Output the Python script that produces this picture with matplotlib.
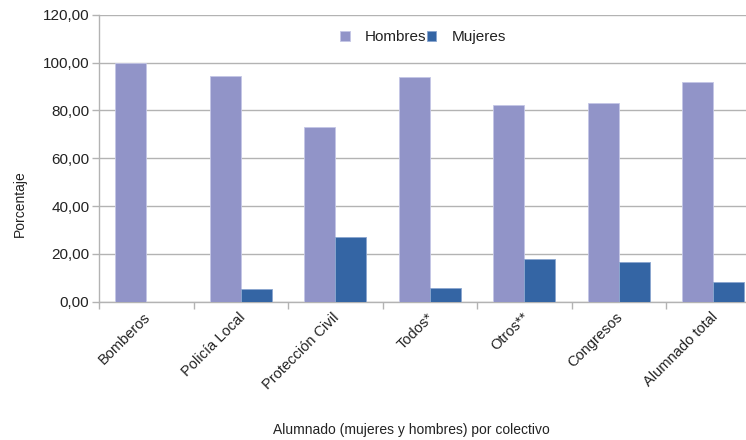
import matplotlib.pyplot as plt
import matplotlib.transforms as mtransforms
import numpy as np

plt.rcParams['font.family'] = ['Liberation Sans', 'DejaVu Sans']

# Datos
colectivos = ['Bomberos', 'Policía Local', 'Protección Civil', 'Todos*', 'Otros**', 'Congresos', 'Alumnado total']
hombres = [100.0, 94.5, 72.9, 94.1, 82.1, 83.2, 91.9]
mujeres = [0.0, 5.5, 27.1, 5.9, 17.9, 16.8, 8.1]
yticks = [0, 20, 40, 60, 80, 100, 120]

color_h = '#9194c8'
color_m = '#3465a4'
gris = '#b3b3b3'

fig = plt.figure(figsize=(7.46, 4.40), dpi=100)
# el eje se sale un poco por la derecha, como en el original
ax = fig.add_axes([99 / 746, (440 - 301.7) / 440, 661.5 / 746, 287 / 440])

x = np.arange(len(colectivos))
w = 0.33
ax.bar(x - w / 2, hombres, w, color=color_h, edgecolor='#c4c6e6', linewidth=0.6, label='Hombres', zorder=3)
ax.bar(x + w / 2, mujeres, w, color=color_m, edgecolor='#8aa6cf', linewidth=0.6, label='Mujeres', zorder=3)

ax.set_xlim(-0.5, len(colectivos) - 0.5)
ax.set_ylim(0, 120)
ax.set_yticks(yticks)
ax.set_yticklabels([f'{v:.2f}'.replace('.', ',') for v in yticks], fontsize=11, color='#222222')
ax.yaxis.grid(True, color=gris, linewidth=1, zorder=0)

# ticks del eje x en los limites de cada grupo, etiquetas en el centro
ax.set_xticks(np.arange(len(colectivos) + 1) - 0.5)
ax.set_xticklabels([])
ax.set_xticks(x, minor=True)
ax.set_xticklabels(colectivos, minor=True, rotation=45, ha='right', fontsize=10.5, color='#222222')
ax.tick_params(axis='x', which='minor', length=0, pad=6)
ax.tick_params(axis='x', which='major', length=5, color=gris, width=1)
ax.tick_params(axis='y', length=5, color=gris, width=1, pad=2)

# mover un poco las etiquetas hacia la derecha
desplaza = mtransforms.ScaledTranslation(7 / 100, 0, fig.dpi_scale_trans)
for lab in ax.get_xticklabels(minor=True):
    lab.set_transform(lab.get_transform() + desplaza)

for s in ['top', 'right']:
    ax.spines[s].set_visible(False)
for s in ['left', 'bottom']:
    ax.spines[s].set_color(gris)
    ax.spines[s].set_linewidth(1)

fig.text(20 / 746, 1 - 204 / 440, 'Porcentaje', rotation=90, ha='center', va='center', fontsize=10, color='#222222')
fig.text(411 / 746, 1 - 430 / 440, 'Alumnado (mujeres y hombres) por colectivo', ha='center', va='center', fontsize=10, color='#222222')

leg = fig.legend(loc='center', bbox_to_anchor=(423 / 746, 1 - 37 / 440), ncol=2, frameon=False,
                 fontsize=11, handlelength=0.65, handleheight=0.65, handletextpad=1.0,
                 columnspacing=0.0, borderaxespad=0)
for t in leg.get_texts():
    t.set_color('#222222')

plt.savefig('out.png', dpi=100)
